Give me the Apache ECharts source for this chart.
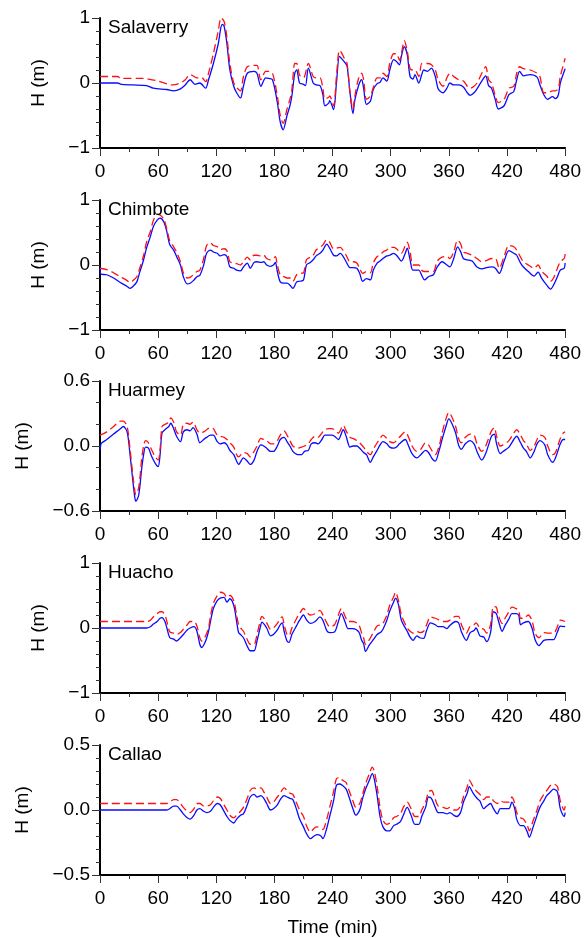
<!DOCTYPE html>
<html>
<head>
<meta charset="utf-8">
<script src="https://cdn.jsdelivr.net/npm/echarts@6/dist/echarts.min.js"></script>
<style>html,body{margin:0;padding:0;background:#fff;}#c{width:584px;height:938px;}</style>
</head>
<body>
<div id="c"></div>
<script>
const xTicks = [0, 60, 120, 180, 240, 300, 360, 420, 480];
const stationNames = ['Salaverry', 'Chimbote', 'Huarmey', 'Huacho', 'Callao'];

const salaverryYLabels = ['\u22121', '0', '1'];
const chimboteYLabels = ['\u22121', '0', '1'];
const huarmeyYLabels = ['\u22120.6', '0.0', '0.6'];
const huachoYLabels = ['\u22121', '0', '1'];
const callaoYLabels = ['\u22120.5', '0.0', '0.5'];

const salaverryBlue = [[0,0],[10,0],[18,0],[22,-0.02],[34,-0.03],[48,-0.04],[55,-0.08],[69,-0.1],[76,-0.12],[83,-0.09],[88,-0.03],[93,0.05],[98,-0.02],[103,0],[109,-0.08],[112,0.05],[117,0.3],[122,0.6],[126,0.9],[128,0.88],[131,0.6],[134,0.2],[138,-0.05],[141,-0.15],[145,-0.23],[148,-0.05],[152,0.15],[159,0.18],[162,0.15],[166,-0.05],[171,0.08],[174,0.07],[178,0.05],[183,-0.3],[186,-0.6],[189,-0.72],[193,-0.5],[196,-0.35],[198,-0.2],[201,0.15],[203,0.2],[206,0.0],[210,-0.02],[212,-0.04],[215,0.23],[220,0],[223,-0.03],[227,-0.04],[230,-0.18],[232,-0.35],[236,-0.31],[237,-0.27],[241,-0.41],[244,0],[247,0.41],[249,0.38],[253,0.31],[255,0.26],[258,-0.15],[261,-0.47],[263,-0.26],[267,-0.03],[270,0.05],[272,-0.08],[275,-0.33],[279,-0.28],[282,-0.1],[286,-0.01],[289,0.01],[292,0.08],[296,0.03],[299,0.2],[303,0.36],[306,0.33],[309,0.28],[311,0.41],[314,0.56],[317,0.44],[320,0.1],[323,0.06],[325,0.13],[329,0],[332,0.13],[334,0.2],[338,0.18],[342,0.23],[346,0.1],[349,-0.09],[354,-0.15],[358,-0.08],[361,0],[365,-0.03],[370,-0.03],[375,-0.06],[379,-0.15],[382,-0.19],[386,-0.15],[389,-0.09],[394,0.03],[398,0.11],[401,-0.04],[404,-0.08],[408,-0.26],[411,-0.4],[417,-0.35],[422,-0.18],[427,-0.13],[430,0.05],[433,0.18],[437,0.11],[444,0.13],[451,0.09],[454,-0.03],[458,-0.18],[462,-0.25],[467,-0.21],[470,-0.24],[473,-0.18],[475,0],[480,0.22]];
const salaverryRed = [[0,0.1],[18,0.1],[22,0.07],[45,0.07],[50,0.06],[60,0.03],[75,-0.03],[83,0],[88,0.05],[93,0.13],[100,0.08],[105,0.08],[109,0.02],[112,0.15],[117,0.45],[122,0.8],[125,1.0],[128,0.95],[131,0.7],[134,0.3],[138,0],[141,-0.07],[145,-0.12],[148,0.1],[152,0.25],[159,0.27],[162,0.27],[166,0.05],[171,0.18],[174,0.18],[178,0.15],[183,-0.2],[186,-0.5],[189,-0.62],[193,-0.4],[196,-0.25],[198,-0.1],[201,0.3],[203,0.3],[206,0.12],[210,0.08],[215,0.3],[220,0.1],[223,0.08],[227,0.08],[230,-0.08],[232,-0.25],[236,-0.22],[237,-0.2],[241,-0.35],[244,0.1],[247,0.5],[249,0.47],[253,0.35],[255,0.3],[258,-0.15],[261,-0.4],[263,-0.2],[267,0.08],[270,0.15],[272,0.05],[275,-0.25],[279,-0.2],[282,-0.07],[286,0.08],[289,0.08],[292,0.15],[296,0.1],[299,0.3],[303,0.45],[306,0.45],[309,0.35],[311,0.45],[314,0.65],[317,0.5],[320,0.22],[323,0.2],[325,0.2],[329,0.1],[332,0.3],[334,0.3],[338,0.3],[342,0.28],[346,0.2],[349,0.05],[354,-0.05],[358,0.08],[361,0.15],[365,0.1],[370,0.05],[375,0.03],[379,-0.05],[382,-0.08],[386,-0.05],[389,0],[394,0.15],[398,0.25],[401,0.05],[404,0],[408,-0.2],[411,-0.3],[417,-0.25],[422,-0.08],[427,-0.05],[430,0.15],[433,0.25],[437,0.22],[444,0.2],[451,0.15],[454,0.1],[458,-0.15],[462,-0.15],[467,-0.12],[470,-0.12],[473,-0.08],[475,0.1],[480,0.38]];

const chimboteBlue = [[0,-0.05],[1,-0.14],[7,-0.15],[14,-0.2],[21,-0.27],[28,-0.33],[31,-0.36],[34,-0.33],[38,-0.26],[41,-0.11],[45,0.08],[48,0.26],[52,0.44],[55,0.59],[59,0.69],[62,0.72],[66,0.66],[69,0.51],[72,0.31],[76,0.23],[79,0.13],[83,0],[86,-0.18],[90,-0.29],[93,-0.28],[97,-0.23],[100,-0.18],[103,-0.16],[107,0],[110,0.18],[114,0.23],[117,0.2],[121,0.18],[124,0.14],[128,0.16],[131,0.13],[134,-0.03],[138,-0.05],[141,-0.08],[145,-0.09],[148,-0.03],[152,0.03],[155,-0.05],[159,0.04],[162,0.05],[166,0.04],[169,0.05],[172,0],[176,-0.02],[179,0],[181,0.04],[183,-0.1],[186,-0.26],[190,-0.28],[193,-0.28],[196,-0.31],[199,-0.36],[203,-0.26],[206,-0.25],[210,-0.23],[213,0],[217,0.04],[220,0.08],[223,0.14],[227,0.18],[230,0.23],[234,0.32],[237,0.26],[241,0.15],[244,0.14],[248,0.18],[251,0.13],[254,0.05],[258,-0.04],[261,-0.04],[265,-0.05],[268,-0.13],[271,-0.25],[275,-0.21],[279,-0.23],[282,-0.08],[286,0.03],[289,0.06],[292,0.1],[296,0.14],[299,0.15],[303,0.18],[306,0.15],[311,0.06],[315,0.18],[317,0.26],[320,0.08],[323,-0.08],[329,-0.08],[332,-0.16],[335,-0.23],[339,-0.18],[344,-0.15],[348,-0.03],[353,0.05],[358,0],[361,-0.03],[365,0.1],[369,0.28],[372,0.21],[375,0.1],[379,0.08],[384,0.06],[389,-0.03],[394,-0.06],[399,-0.04],[404,-0.03],[408,-0.05],[412,-0.13],[417,0.06],[422,0.22],[427,0.18],[430,0.15],[434,0.03],[437,-0.03],[442,-0.1],[448,-0.17],[452,-0.11],[456,-0.21],[461,-0.31],[465,-0.37],[468,-0.31],[472,-0.18],[475,-0.08],[479,-0.05],[480,0.03]];
const chimboteRed = [[0,-0.05],[7,-0.07],[14,-0.12],[21,-0.18],[28,-0.24],[31,-0.27],[34,-0.24],[38,-0.18],[41,-0.05],[45,0.15],[48,0.35],[52,0.52],[55,0.68],[59,0.78],[62,0.77],[66,0.7],[69,0.55],[72,0.37],[76,0.28],[79,0.2],[83,0.05],[86,-0.12],[90,-0.2],[93,-0.19],[97,-0.14],[100,-0.1],[103,-0.08],[107,0.1],[110,0.3],[114,0.34],[117,0.3],[121,0.28],[124,0.24],[128,0.25],[131,0.22],[134,0.05],[138,0.03],[141,0.02],[145,0],[148,0.05],[152,0.12],[155,0.08],[159,0.15],[162,0.15],[166,0.14],[169,0.15],[172,0.1],[176,0.08],[179,0.1],[181,0.13],[183,0],[186,-0.15],[190,-0.18],[193,-0.2],[196,-0.2],[199,-0.25],[203,-0.15],[206,-0.13],[210,-0.12],[213,0.08],[217,0.12],[220,0.15],[223,0.23],[227,0.27],[230,0.31],[234,0.39],[237,0.35],[241,0.25],[244,0.26],[248,0.27],[251,0.22],[254,0.15],[258,0.05],[261,0.05],[265,0.03],[268,-0.05],[271,-0.13],[275,-0.1],[279,-0.12],[282,0.03],[286,0.13],[289,0.15],[292,0.2],[296,0.23],[299,0.27],[303,0.27],[306,0.25],[311,0.18],[315,0.3],[317,0.35],[320,0.2],[323,0],[329,0],[332,-0.08],[335,-0.1],[339,-0.1],[344,-0.1],[348,0.06],[353,0.12],[358,0.13],[361,0.1],[365,0.2],[369,0.38],[372,0.33],[375,0.2],[379,0.18],[384,0.15],[389,0.1],[394,0.05],[399,0.07],[404,0.1],[408,0.1],[412,-0.05],[417,0.13],[422,0.3],[427,0.28],[430,0.23],[434,0.12],[437,0.05],[442,0],[448,-0.05],[452,0],[456,-0.1],[461,-0.17],[465,-0.25],[468,-0.2],[472,-0.05],[475,0.05],[479,0.1],[480,0.17]];

const huarmeyBlue = [[0,-0.04],[1,0.02],[2,0.03],[7,0.06],[14,0.11],[21,0.16],[24,0.18],[28,0.13],[31,-0.08],[34,-0.33],[36,-0.48],[37,-0.51],[40,-0.45],[43,-0.21],[45,-0.08],[47,-0.01],[50,-0.02],[53,-0.09],[57,-0.16],[60,-0.19],[62,-0.08],[64,0.12],[67,0.15],[71,0.18],[73,0.21],[76,0.16],[79,0.09],[83,0.04],[86,0.13],[90,0.15],[93,0.14],[96,0.17],[100,0.11],[103,0.03],[107,0.06],[110,0.08],[114,0.1],[117,0.1],[121,0.04],[124,0.02],[128,0.03],[131,0.01],[134,-0.04],[138,-0.08],[141,-0.14],[143,-0.17],[148,-0.11],[152,-0.14],[155,-0.17],[159,-0.13],[162,-0.05],[166,0.01],[169,0],[172,-0.02],[176,-0.05],[179,-0.05],[183,0],[186,0.06],[190,0.08],[193,0.04],[196,0.0],[199,-0.05],[204,-0.08],[208,-0.08],[211,-0.05],[215,-0.04],[218,0.02],[222,0.03],[225,0.02],[229,0.06],[232,0.1],[236,0.1],[239,0.1],[242,0.09],[246,0.06],[251,0.15],[254,0.09],[258,-0.01],[261,0],[265,0],[268,-0.02],[272,-0.06],[275,-0.08],[279,-0.15],[282,-0.1],[286,-0.04],[289,0.01],[292,0.04],[296,0.02],[299,-0.01],[303,-0.02],[306,-0.01],[309,0.02],[315,0.06],[318,0.01],[322,-0.07],[327,-0.11],[331,-0.08],[336,-0.04],[339,-0.06],[343,-0.12],[346,-0.14],[350,-0.04],[353,0.06],[357,0.18],[360,0.25],[363,0.21],[367,0.12],[370,0.01],[373,-0.03],[377,0.02],[382,0.05],[386,0.02],[389,-0.05],[394,-0.13],[398,-0.07],[401,0.01],[404,0.09],[407,0.11],[409,0.03],[413,-0.07],[416,-0.05],[422,-0.01],[427,0.06],[430,0.09],[434,0.03],[437,-0.02],[440,-0.05],[444,-0.11],[448,-0.05],[451,0.02],[454,0.05],[459,0.01],[462,-0.08],[467,-0.15],[470,-0.11],[475,0.02],[478,0.06],[480,0.06]];
const huarmeyRed = [[0,0.1],[7,0.13],[14,0.18],[21,0.23],[24,0.23],[28,0.18],[31,-0.03],[34,-0.28],[36,-0.42],[37,-0.45],[40,-0.38],[43,-0.12],[45,0],[47,0.05],[50,0.03],[53,-0.03],[57,-0.1],[60,-0.13],[62,-0.03],[64,0.18],[67,0.2],[71,0.22],[73,0.26],[76,0.22],[79,0.13],[83,0.1],[86,0.2],[90,0.21],[93,0.2],[96,0.22],[100,0.15],[103,0.12],[107,0.13],[110,0.15],[114,0.17],[117,0.16],[121,0.1],[124,0.09],[128,0.08],[131,0.06],[134,0.03],[138,-0.01],[141,-0.08],[143,-0.1],[148,-0.06],[152,-0.07],[155,-0.1],[159,-0.05],[162,0],[166,0.07],[169,0.06],[172,0.05],[176,0.02],[179,0.02],[183,0.05],[186,0.1],[190,0.14],[193,0.1],[196,0.05],[199,0],[204,-0.02],[208,-0.01],[211,0],[215,0.02],[218,0.06],[222,0.09],[225,0.08],[229,0.12],[232,0.15],[236,0.16],[239,0.16],[242,0.15],[246,0.12],[251,0.19],[254,0.14],[258,0.08],[261,0.07],[265,0.05],[268,0.03],[272,-0.01],[275,-0.05],[279,-0.08],[282,-0.03],[286,0.03],[289,0.07],[292,0.1],[296,0.07],[299,0.04],[303,0.03],[306,0.05],[309,0.08],[315,0.13],[318,0.09],[322,0],[327,-0.05],[331,-0.03],[336,0.03],[339,0.01],[343,-0.05],[346,-0.08],[350,0],[353,0.12],[357,0.25],[360,0.31],[363,0.27],[367,0.18],[370,0.07],[373,0.03],[377,0.08],[382,0.11],[386,0.1],[389,0.02],[394,-0.05],[398,0],[401,0.07],[404,0.14],[407,0.17],[409,0.1],[413,0],[416,0.01],[422,0.05],[427,0.12],[430,0.15],[434,0.1],[437,0.05],[440,0.02],[444,-0.04],[448,0],[451,0.06],[454,0.1],[459,0.08],[462,0],[467,-0.08],[470,-0.06],[475,0.07],[478,0.12],[480,0.13]];

const huachoBlue = [[0,0],[48,0],[52,0.02],[55,0.06],[59,0.1],[62,0.15],[64,0.16],[67,0.1],[69,0],[72,-0.15],[76,-0.17],[79,-0.2],[83,-0.15],[86,-0.1],[90,-0.03],[93,0],[97,0.02],[100,-0.05],[103,-0.25],[105,-0.3],[109,-0.2],[112,-0.05],[114,0.1],[117,0.3],[121,0.42],[124,0.46],[128,0.47],[131,0.4],[134,0.45],[138,0.35],[141,0.1],[143,-0.07],[145,-0.1],[148,-0.15],[152,-0.28],[155,-0.35],[159,-0.35],[162,-0.2],[166,0.05],[167,0.09],[172,0],[176,-0.12],[179,-0.1],[183,-0.03],[186,0.05],[188,0.08],[190,-0.05],[193,-0.2],[195,-0.22],[198,-0.1],[203,0.04],[206,0.12],[210,0.2],[213,0.13],[217,0.07],[222,0.1],[227,0.17],[230,0.12],[234,-0.04],[237,-0.07],[242,-0.06],[246,0.1],[249,0.22],[253,0.09],[256,-0.01],[261,-0.01],[267,-0.06],[270,-0.19],[272,-0.24],[274,-0.36],[278,-0.26],[282,-0.18],[286,-0.1],[290,-0.06],[292,-0.02],[296,0.12],[299,0.26],[303,0.4],[305,0.46],[308,0.36],[311,0.12],[317,-0.05],[320,-0.14],[323,-0.19],[327,-0.12],[330,-0.15],[334,-0.16],[337,-0.04],[341,0.08],[346,0.05],[349,0.02],[354,0.02],[358,-0.01],[361,0.04],[367,0.1],[370,0.08],[373,-0.06],[378,-0.19],[382,-0.07],[386,-0.04],[388,0],[392,-0.12],[396,-0.14],[399,-0.21],[403,-0.07],[406,0.25],[409,0.22],[411,0.12],[415,-0.05],[418,0.04],[422,0.14],[425,0.22],[429,0.22],[432,0.2],[434,0.05],[437,0.08],[442,0.1],[446,-0.01],[449,-0.18],[453,-0.27],[458,-0.19],[463,-0.18],[468,-0.18],[472,-0.06],[475,0.03],[480,0.02]];
const huachoRed = [[0,0.1],[48,0.1],[52,0.12],[55,0.17],[59,0.22],[62,0.25],[64,0.25],[67,0.2],[69,0.1],[72,-0.06],[76,-0.08],[79,-0.1],[83,-0.07],[86,-0.02],[90,0.05],[93,0.1],[97,0.1],[100,0.03],[103,-0.15],[105,-0.2],[109,-0.12],[112,0],[114,0.18],[117,0.38],[121,0.5],[124,0.55],[128,0.53],[131,0.47],[134,0.5],[138,0.42],[141,0.2],[143,0.05],[145,0],[148,-0.05],[152,-0.18],[155,-0.25],[159,-0.25],[162,-0.1],[166,0.15],[167,0.18],[172,0.08],[176,-0.02],[179,0],[183,0.07],[186,0.15],[188,0.17],[190,0.05],[193,-0.1],[195,-0.12],[198,0],[203,0.15],[206,0.22],[210,0.3],[213,0.25],[217,0.2],[222,0.22],[227,0.27],[230,0.2],[234,0.08],[237,0.02],[242,0.05],[246,0.2],[249,0.3],[253,0.18],[256,0.1],[261,0.1],[267,0.05],[270,-0.08],[272,-0.15],[274,-0.25],[278,-0.18],[282,-0.07],[286,0.03],[290,0.05],[292,0.07],[296,0.2],[299,0.35],[303,0.48],[305,0.55],[308,0.42],[311,0.2],[317,0],[320,-0.05],[323,-0.08],[327,-0.05],[330,-0.07],[334,-0.05],[337,0.05],[341,0.17],[346,0.15],[349,0.13],[354,0.1],[358,0.1],[361,0.12],[367,0.18],[370,0.18],[373,0.05],[378,-0.08],[382,0.03],[386,0.05],[388,0.08],[392,0],[396,-0.02],[399,-0.08],[403,0.05],[406,0.33],[409,0.32],[411,0.2],[415,0.07],[418,0.15],[422,0.25],[425,0.32],[429,0.3],[432,0.27],[434,0.15],[437,0.15],[442,0.2],[446,0.1],[449,-0.08],[453,-0.15],[458,-0.07],[463,-0.08],[468,-0.08],[472,0.02],[475,0.12],[480,0.1]];

const callaoBlue = [[0,0],[69,0],[72,0.01],[76,0.03],[79,0.03],[83,0],[86,-0.03],[90,-0.06],[93,-0.07],[97,-0.04],[100,0],[103,0.01],[107,-0.01],[110,-0.02],[114,-0.01],[117,0.02],[121,0.05],[124,0.04],[128,-0.01],[131,-0.05],[134,-0.08],[138,-0.1],[141,-0.07],[145,-0.04],[148,-0.03],[152,0.04],[155,0.1],[159,0.12],[162,0.1],[166,0.11],[169,0.09],[172,0.05],[176,0],[179,0.01],[183,0.04],[186,0.08],[190,0.11],[193,0.1],[196,0.09],[199,0.08],[203,0],[206,-0.07],[210,-0.13],[213,-0.18],[217,-0.22],[221,-0.2],[224,-0.19],[228,-0.2],[230,-0.22],[234,-0.14],[237,-0.05],[241,0.07],[244,0.19],[247,0.2],[250,0.19],[254,0.16],[257,0.1],[261,0.01],[264,-0.04],[268,0],[271,0.09],[274,0.16],[278,0.23],[281,0.28],[283,0.24],[286,0.11],[289,-0.05],[292,-0.13],[296,-0.16],[299,-0.16],[303,-0.12],[306,-0.11],[310,-0.09],[313,-0.04],[317,0.02],[321,-0.04],[325,-0.11],[329,-0.11],[332,-0.05],[336,0.02],[339,0.1],[342,0.09],[346,0.02],[349,-0.02],[354,-0.02],[358,-0.03],[361,-0.02],[365,-0.04],[368,-0.05],[372,-0.02],[375,0.06],[379,0.13],[381,0.18],[385,0.13],[389,0.09],[392,0.07],[396,0.01],[399,0.03],[403,0.05],[406,0.01],[410,-0.03],[413,0.01],[417,0.01],[422,0.01],[425,0.06],[428,0.01],[430,-0.07],[434,-0.12],[437,-0.12],[441,-0.17],[443,-0.21],[447,-0.13],[451,-0.04],[454,0.02],[458,0.07],[461,0.11],[465,0.14],[468,0.16],[472,0.14],[475,0.01],[479,-0.05],[480,-0.02]];
const callaoRed = [[0,0.05],[69,0.05],[72,0.06],[76,0.08],[79,0.08],[83,0.05],[86,0.02],[90,-0.01],[93,-0.02],[97,0.01],[100,0.05],[103,0.05],[107,0.03],[110,0.03],[114,0.04],[117,0.07],[121,0.1],[124,0.09],[128,0.04],[131,0],[134,-0.04],[138,-0.06],[141,-0.04],[145,-0.01],[148,0.02],[152,0.09],[155,0.15],[159,0.17],[162,0.16],[166,0.17],[169,0.14],[172,0.1],[176,0.05],[179,0.06],[183,0.1],[186,0.13],[190,0.17],[193,0.15],[196,0.13],[199,0.12],[203,0.05],[206,0],[210,-0.05],[213,-0.12],[217,-0.17],[221,-0.14],[224,-0.13],[228,-0.14],[230,-0.15],[234,-0.07],[237,0.02],[241,0.14],[244,0.24],[247,0.25],[250,0.23],[254,0.21],[257,0.15],[261,0.07],[264,0.02],[268,0.05],[271,0.12],[274,0.2],[278,0.28],[281,0.33],[283,0.3],[286,0.18],[289,0.02],[292,-0.08],[296,-0.11],[299,-0.1],[303,-0.06],[306,-0.05],[310,-0.03],[313,0.02],[317,0.06],[321,0.01],[325,-0.05],[329,-0.05],[332,0],[336,0.06],[339,0.14],[342,0.15],[346,0.08],[349,0.03],[354,0.02],[358,0.01],[361,0.02],[365,0],[368,0],[372,0.03],[375,0.1],[379,0.18],[381,0.23],[385,0.18],[389,0.14],[392,0.12],[396,0.08],[399,0.1],[403,0.1],[406,0.07],[410,0.05],[413,0.07],[417,0.06],[422,0.06],[425,0.1],[428,0.05],[430,-0.02],[434,-0.06],[437,-0.07],[441,-0.12],[443,-0.16],[447,-0.08],[451,0],[454,0.07],[458,0.12],[461,0.15],[465,0.19],[468,0.2],[472,0.18],[475,0.07],[479,0],[480,0.03]];

const panels = [
  {name: stationNames[0], blue: salaverryBlue, red: salaverryRed, min: -1, max: 1, step: 1, minor: 5, labels: salaverryYLabels, top: 18, nameGap: 52},
  {name: stationNames[1], blue: chimboteBlue, red: chimboteRed, min: -1, max: 1, step: 1, minor: 5, labels: chimboteYLabels, top: 200, nameGap: 52},
  {name: stationNames[2], blue: huarmeyBlue, red: huarmeyRed, min: -0.6, max: 0.6, step: 0.6, minor: 3, labels: huarmeyYLabels, top: 381, nameGap: 68},
  {name: stationNames[3], blue: huachoBlue, red: huachoRed, min: -1, max: 1, step: 1, minor: 5, labels: huachoYLabels, top: 563, nameGap: 52},
  {name: stationNames[4], blue: callaoBlue, red: callaoRed, min: -0.5, max: 0.5, step: 0.5, minor: 5, labels: callaoYLabels, top: 745, nameGap: 68}
];

const FONT = "'Liberation Sans', Arial, Helvetica, sans-serif";
const FS = 19;
const axisLineStyle = {color: '#000', width: 2};

const chart = echarts.init(document.getElementById('c'), null, {renderer: 'canvas'});
const option = {
  backgroundColor: '#fff',
  animation: false,
  textStyle: {fontFamily: FONT},
  title: panels.map(p => ({
    text: p.name, left: 108, top: p.top, padding: 0,
    textStyle: {fontFamily: FONT, fontSize: FS, fontWeight: 'normal', color: '#000'}
  })),
  grid: panels.map(p => ({left: 100, width: 466, top: p.top, height: 130, containLabel: false})),
  xAxis: panels.map((p, i) => ({
    type: 'value', gridIndex: i, min: xTicks[0], max: xTicks[xTicks.length - 1], interval: xTicks[1] - xTicks[0],
    axisLine: {show: true, onZero: false, lineStyle: axisLineStyle},
    axisTick: {show: true, inside: false, length: 8, lineStyle: {color: '#333', width: 1}},
    minorTick: {show: true, splitNumber: 2, length: 4, lineStyle: {color: '#333', width: 1}},
    splitLine: {show: false}, minorSplitLine: {show: false},
    axisLabel: {fontFamily: FONT, fontSize: FS, color: '#000', margin: 14, showMinLabel: true, showMaxLabel: true},
    name: i === panels.length - 1 ? 'Time (min)' : '',
    nameLocation: 'middle', nameGap: 43,
    nameTextStyle: {fontFamily: FONT, fontSize: FS, color: '#000'}
  })),
  yAxis: panels.map((p, i) => ({
    type: 'value', gridIndex: i, min: p.min, max: p.max, interval: p.step,
    axisLine: {show: true, onZero: false, lineStyle: axisLineStyle},
    axisTick: {show: true, inside: false, length: 8, lineStyle: {color: '#333', width: 1}},
    minorTick: {show: true, splitNumber: p.minor, length: 4, lineStyle: {color: '#333', width: 1}},
    splitLine: {show: false}, minorSplitLine: {show: false},
    axisLabel: {
      fontFamily: FONT, fontSize: FS, color: '#000', margin: 10,
      formatter: (v) => p.labels[Math.round((v - p.min) / p.step)]
    },
    name: 'H (m)', nameLocation: 'middle', nameRotate: 90, nameGap: p.nameGap,
    nameTextStyle: {fontFamily: FONT, fontSize: FS, color: '#000'}
  })),
  series: panels.flatMap((p, i) => [
    {type: 'line', xAxisIndex: i, yAxisIndex: i, data: p.blue, showSymbol: false, symbol: 'none',
     smooth: 0.3, lineStyle: {color: '#0a0aff', width: 1.3}, z: 2},
    {type: 'line', xAxisIndex: i, yAxisIndex: i, data: p.red, showSymbol: false, symbol: 'none',
     smooth: 0.3, lineStyle: {color: '#ff1010', width: 1.3, type: [8, 4]}, z: 3}
  ])
};
chart.setOption(option);
</script>
</body>
</html>
